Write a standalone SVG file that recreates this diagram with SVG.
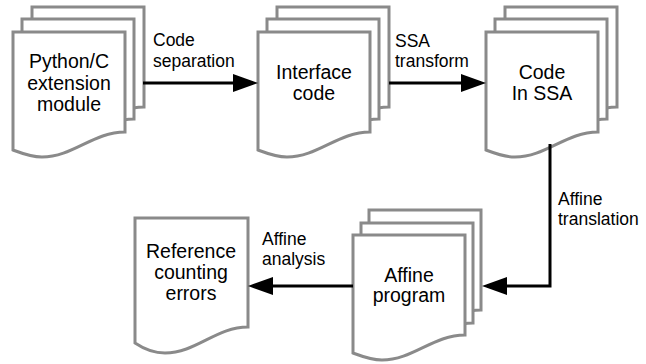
<svg xmlns="http://www.w3.org/2000/svg" xmlns:xlink="http://www.w3.org/1999/xlink" width="646" height="364" viewBox="0 0 646 364">
<style>
.pg{fill:#fff;stroke:#8a8a8a;stroke-width:3;stroke-linejoin:miter}
.nt{font-family:"Liberation Sans",Arial,sans-serif;font-size:19.5px;fill:#000;text-anchor:middle}
.et{font-family:"Liberation Sans",Arial,sans-serif;font-size:17.5px;fill:#000}
.cn{fill:none;stroke:#000;stroke-width:3;marker-end:url(#ah)}
</style>
<defs>
<path id="doc" d="M0,0 H112 V100 C80,100 60,125 29,125 C18,125 8,121 0,118 Z"/>
<marker id="ah" markerUnits="userSpaceOnUse" markerWidth="25" markerHeight="18" refX="20" refY="9" orient="auto" viewBox="0 0 25 18">
<path d="M0,0 L25,9 L0,18 Z" fill="#000"/>
</marker>
</defs>
<rect width="646" height="364" fill="#fff"/>
<g id="n1">
<use xlink:href="#doc" class="pg" transform="translate(32,7)"/>
<use xlink:href="#doc" class="pg" transform="translate(22,19)"/>
<use xlink:href="#doc" class="pg" transform="translate(13,32)"/>
<text class="nt" x="69" y="68">Python/C</text>
<text class="nt" x="69" y="90">extension</text>
<text class="nt" x="69" y="111">module</text>
</g>
<g id="n2">
<use xlink:href="#doc" class="pg" transform="translate(277,7)"/>
<use xlink:href="#doc" class="pg" transform="translate(267,19)"/>
<use xlink:href="#doc" class="pg" transform="translate(258,32)"/>
<text class="nt" x="314" y="79">Interface</text>
<text class="nt" x="314" y="100">code</text>
</g>
<g id="n3">
<use xlink:href="#doc" class="pg" transform="translate(505,7)"/>
<use xlink:href="#doc" class="pg" transform="translate(495,19)"/>
<use xlink:href="#doc" class="pg" transform="translate(486,32)"/>
<text class="nt" x="542" y="79">Code</text>
<text class="nt" x="542" y="100">In SSA</text>
</g>
<g id="n5">
<use xlink:href="#doc" class="pg" transform="translate(369,210)"/>
<use xlink:href="#doc" class="pg" transform="translate(361,223)"/>
<use xlink:href="#doc" class="pg" transform="translate(353,235)"/>
<text class="nt" x="409" y="282">Affine</text>
<text class="nt" x="409" y="302">program</text>
</g>
<g id="n4">
<path class="pg" d="M135,218 H248 V327 C216,327 196,353 165,353 C154,353 144,349 135,343 Z"/>
<text class="nt" x="191" y="258">Reference</text>
<text class="nt" x="191" y="279">counting</text>
<text class="nt" x="191" y="300">errors</text>
</g>
<g id="connectors">
<line class="cn" x1="143" y1="83" x2="253" y2="83"/>
<line class="cn" x1="389" y1="83" x2="481" y2="83"/>
<polyline class="cn" points="550,144 550,286 487,286"/>
<line class="cn" x1="353" y1="286" x2="253" y2="286"/>
<text class="et" x="153" y="46">Code</text>
<text class="et" x="153" y="67">separation</text>
<text class="et" x="395" y="47">SSA</text>
<text class="et" x="395" y="67">transform</text>
<text class="et" x="558" y="205">Affine</text>
<text class="et" x="558" y="225">translation</text>
<text class="et" x="262" y="245">Affine</text>
<text class="et" x="262" y="265">analysis</text>
</g>
</svg>
